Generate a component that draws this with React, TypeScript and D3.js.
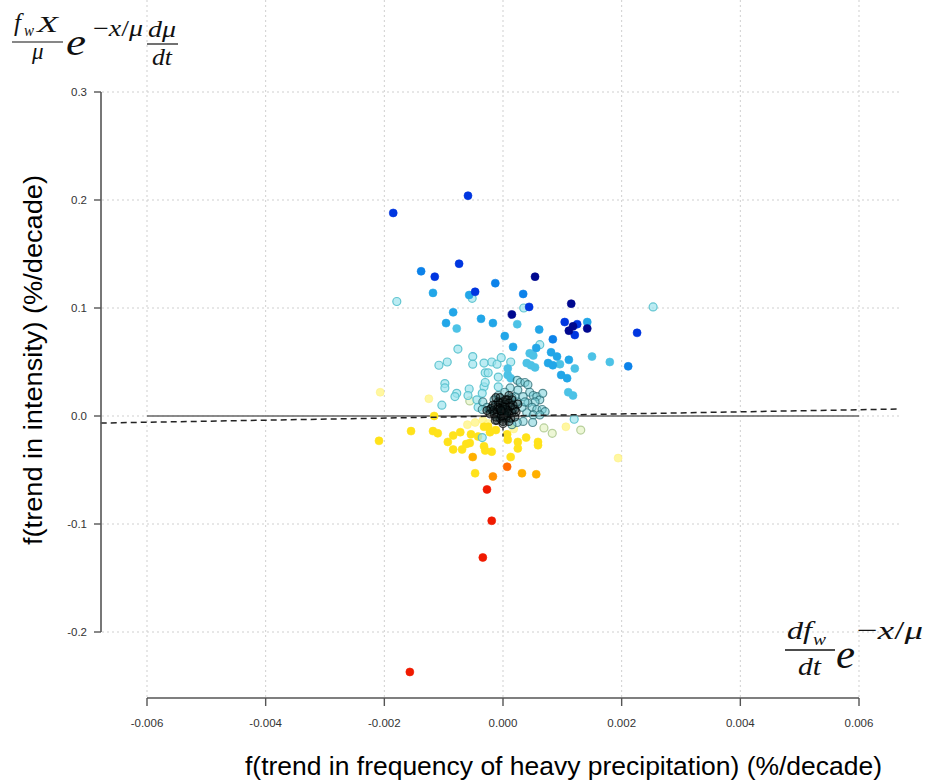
import React from "react";
import * as d3 from "d3";

const xTicks = [-0.006, -0.004, -0.002, 0, 0.002, 0.004, 0.006];
const xTickLabels = ["-0.006", "-0.004", "-0.002", "0.000", "0.002", "0.004", "0.006"];
const yTicks = [-0.2, -0.1, 0, 0.1, 0.2, 0.3];
const yTickLabels = ["-0.2", "-0.1", "0.0", "0.1", "0.2", "0.3"];

const xLabel = "f(trend in frequency of heavy precipitation) (%/decade)";
const yLabel = "f(trend in intensity) (%/decade)";

const regSlope = 0.965;
const regIntercept = 0;
const regXRange = [-0.00678, 0.00669];
const vSegment = [0.006, -0.019];

const navyPts = [[0.00054, 0.129], [0.00115, 0.104], [0.00015, 0.094], [0.00111, 0.079], [0.00118, 0.083], [0.00142, 0.081]];
const bluePts = [[-0.00185, 0.188], [-0.00059, 0.204], [-0.00115, 0.129], [-0.00074, 0.141], [-0.00047, 0.115], [0.00044, 0.101], [0.00104, 0.087], [0.00125, 0.085], [0.00121, 0.075], [0.00226, 0.077]];
const azurePts = [[-0.00138, 0.134], [-0.00013, 0.123], [0.00034, 0.113], [0.00084, 0.071], [0.00211, 0.046]];
const skyPts = [[-0.00118, 0.114], [-0.00057, 0.112], [-0.00084, 0.096], [-0.00096, 0.086], [-0.00037, 0.09], [-0.00017, 0.086], [0.00061, 0.08], [0.00003, 0.074], [0.00017, 0.064], [0.00142, 0.087], [0.00056, 0.063], [0.00081, 0.059], [0.00091, 0.055], [0.00111, 0.052], [0.00076, 0.049], [0.00084, 0.047], [0.00098, 0.038], [0.00108, 0.035]];
const cyanPts = [[-0.00078, 0.081], [0.00024, 0.085], [0.0015, 0.055], [0.0018, 0.05], [0.0004, 0.049], [0.00047, 0.047], [0.00054, 0.045], [0.00096, 0.048], [0.00121, 0.044], [0.00008, 0.038], [0.00013, 0.035], [0.00008, 0.044], [0.00045, 0.058], [0.00051, 0.056], [0.0011, 0.022], [0.00118, 0.019]];
const lightCyanPts = [[-0.00052, 0.109], [-0.00179, 0.106], [0.00035, 0.1], [0.00253, 0.101], [-0.00076, 0.062], [0.00062, 0.066], [-0.00051, 0.055], [-0.00094, 0.05], [-0.00108, 0.047], [-0.00051, 0.048], [-0.00019, 0.05], [-0.0001, 0.048], [-0.00003, 0.054], [0.00013, 0.05], [-0.00098, 0.03], [-0.00098, 0.026], [-0.00078, 0.021], [-0.00081, 0.018], [-0.00103, 0.01], [-0.00057, 0.025], [-0.00059, 0.019], [-0.00044, 0.015], [-0.00042, 0.008], [-0.00032, 0.027], [-0.0003, 0.031], [-0.00008, 0.027], [-0.00035, 0.021], [-0.0003, 0.04], [-0.00025, 0.04], [-0.00008, 0.036], [-0.00032, 0.049], [0.0012, -0.003], [-0.00035, -0.02]];
const darkRingPts = [[0.00024, 0.033], [0.00029, 0.031], [0.00037, 0.031], [0.00042, 0.029], [0.00045, 0.022], [0.00051, 0.019], [0.00057, 0.018], [0.00062, 0.015], [0.00054, 0.013], [0.00042, 0.012], [0.00049, 0.008], [0.00057, 0.006], [0.00066, 0.006], [0.00071, 0.004], [0.0004, 0.003], [0.00051, 0.001], [0.00062, 0.001], [0.00032, 0.008], [0.00024, 0.013], [0.00017, 0.007], [0.0002, 0.018], [0.00025, 0.024], [0.00012, 0.026], [0.00034, 0.018], [0.00037, 0.013], [-0.00034, 0.013], [-0.00027, 0.008], [-0.00022, 0.006], [-0.00035, 0.006], [-0.00008, 0.019], [-0.00015, 0.015], [0.00003, 0.022], [0.00015, 0.017], [0.0005, -0.006], [0.00034, -0.005], [0.00024, -0.006], [0.00015, -0.008], [0.00067, 0.021]];
const corePts = [[-0.00013, 0.01], [-0.00005, 0.012], [0.00003, 0.011], [0.00012, 0.009], [-0.0001, 0.006], [0, 0.006], [0.00008, 0.005], [0.00015, 0.003], [-0.00007, 0.002], [0.00003, 0.001], [-0.00015, 0.002], [-0.00005, -0.002], [0.00005, -0.002], [0.00013, -0.002], [-0.0001, -0.004], [0, -0.005], [0.0002, 0.006], [-0.0002, 0.007], [0.00008, 0.015], [-0.00005, 0.017], [0.00002, 0.003], [-0.00002, 0.004], [0.00005, 0.006], [-0.00008, 0.008], [-0.00003, 0], [0, 0.009], [0.00007, 0], [-0.00012, -0.001], [0.0001, 0.012], [-0.00017, 0.005], [-0.00008, 0.013], [0, 0.013], [-0.00017, 0.01], [0.00017, 0.01], [0.00022, 0.004], [-0.00022, 0.002], [-0.00013, -0.004], [0.0001, -0.005], [0, -0.007], [0.00005, 0.015], [0.00015, 0.015], [0.00025, 0.011], [-0.00012, 0.017], [0.0001, 0.019], [0.0002, -0.001], [-0.00027, 0.005], [-0.00005, 0.007], [0.00003, 0.008], [-0.00003, 0.005], [0.00007, 0.003]];
const paleGreenPts = [[0.00131, -0.013], [0.00083, -0.016], [0.00069, -0.011], [-0.00056, 0.014]];
const paleYellowPts = [[-0.00207, 0.022], [-0.00125, 0.016], [0.00106, -0.01], [0.00194, -0.039], [-0.00047, -0.006], [-0.00034, -0.004], [-0.0006, -0.008], [-0.00025, -0.007], [0.00018, -0.012]];
const yellowPts = [[-0.00209, -0.023], [-0.00155, -0.014], [-0.00116, 0], [-0.00118, -0.014], [-0.0011, -0.016], [-0.00093, -0.024], [-0.00084, -0.018], [-0.00072, -0.015], [-0.00084, -0.031], [-0.00069, -0.031], [-0.00062, -0.026], [-0.00056, -0.025], [-0.00054, -0.017], [-0.00042, -0.019], [-0.00047, -0.053], [-0.00032, -0.028], [-0.0003, -0.032], [-0.00019, -0.033], [-0.00032, -0.01], [-0.00025, -0.01], [-0.00022, -0.015], [-0.00012, -0.013], [0.00007, -0.017], [0.00008, -0.022], [0.00013, -0.038], [0.00025, -0.024], [0.00025, -0.03], [0.00039, -0.02], [0.00059, -0.024], [0.00059, -0.027]];
const amberPts = [[-0.00051, -0.038], [0.00032, -0.053], [0.00056, -0.054]];
const orangePts = [[-0.00017, -0.056]];
const orangeRedPts = [[0.00007, -0.047]];
const redPts = [[-0.00027, -0.068], [-0.00019, -0.097], [-0.00034, -0.131], [-0.00157, -0.237]];

type Style = { fill: string; fo: number; stroke: string; so: number; sw: number };

const layers: { pts: number[][]; st: Style }[] = [
  { pts: paleGreenPts, st: { fill: "#e6f4c4", fo: 0.7, stroke: "#a8c488", so: 0.8, sw: 1.2 } },
  { pts: paleYellowPts, st: { fill: "#fff58a", fo: 0.8, stroke: "#fff07a", so: 0.5, sw: 1 } },
  { pts: yellowPts, st: { fill: "#ffe21a", fo: 1, stroke: "#ffe21a", so: 0.6, sw: 1 } },
  { pts: amberPts, st: { fill: "#ffb000", fo: 1, stroke: "#ffb000", so: 0.6, sw: 1 } },
  { pts: orangePts, st: { fill: "#ff9000", fo: 1, stroke: "#ff9000", so: 0.6, sw: 1 } },
  { pts: orangeRedPts, st: { fill: "#ff6a00", fo: 1, stroke: "#ff6a00", so: 0.6, sw: 1 } },
  { pts: redPts, st: { fill: "#f01a00", fo: 1, stroke: "#f01a00", so: 0.6, sw: 1 } },
  { pts: lightCyanPts, st: { fill: "#9ee4ee", fo: 0.7, stroke: "#55c0cc", so: 0.9, sw: 1.2 } },
  { pts: cyanPts, st: { fill: "#4cc2e6", fo: 1, stroke: "#4cc2e6", so: 0.6, sw: 1 } },
  { pts: skyPts, st: { fill: "#22a6e8", fo: 1, stroke: "#22a6e8", so: 0.6, sw: 1 } },
  { pts: azurePts, st: { fill: "#0c82ea", fo: 1, stroke: "#0c82ea", so: 0.6, sw: 1 } },
  { pts: bluePts, st: { fill: "#0036e0", fo: 1, stroke: "#0036e0", so: 0.6, sw: 1 } },
  { pts: navyPts, st: { fill: "#00088f", fo: 1, stroke: "#00088f", so: 0.6, sw: 1 } },
  { pts: darkRingPts, st: { fill: "#78cfd8", fo: 0.55, stroke: "#24646c", so: 0.7, sw: 1.2 } },
  { pts: corePts, st: { fill: "#0c1c1c", fo: 0.35, stroke: "#000000", so: 0.7, sw: 1.2 } },
];

const W = 931;
const H = 781;

export default function App() {
  const x = d3.scaleLinear().domain([-0.006, 0.006]).range([147, 859]);
  const y = d3.scaleLinear().domain([-0.2, 0.3]).range([632, 92]);
  const axisColor = "#555";
  const gridColor = "#cfcfcf";
  const tickFont = "'Liberation Sans', Arial, sans-serif";
  const mathFont = "'Liberation Serif', 'Times New Roman', serif";
  const r = 4;
  const LA = "spacingAndGlyphs";

  return (
    <svg width={W} height={H} style={{ position: "absolute", left: 0, top: 0, background: "#fff" }}>
      <rect x={0} y={0} width={W} height={H} fill="#fff" />
      {xTicks.map((t, i) => (
        <line key={"gx" + i} x1={x(t)} x2={x(t)} y1={0} y2={697} stroke={gridColor} strokeWidth={1} strokeDasharray="2,3" />
      ))}
      {yTicks.map((t, i) => (
        <line key={"gy" + i} x1={102} x2={900} y1={y(t)} y2={y(t)} stroke={gridColor} strokeWidth={1} strokeDasharray="2,3" />
      ))}
      <line x1={x(-0.006)} x2={x(0.006)} y1={y(0)} y2={y(0)} stroke="#666" strokeWidth={1.6} />
      {layers.map((L, li) =>
        L.pts.map((p, i) => (
          <circle key={li + "-" + i} cx={x(p[0])} cy={y(p[1])} r={r} fill={L.st.fill} fillOpacity={L.st.fo}
            stroke={L.st.stroke} strokeOpacity={L.st.so} strokeWidth={L.st.sw} />
        ))
      )}
      <line x1={x(regXRange[0])} x2={x(regXRange[1])}
        y1={y(regIntercept + regSlope * regXRange[0])} y2={y(regIntercept + regSlope * regXRange[1])}
        stroke="#222" strokeWidth={1.5} strokeDasharray="6,4" />
      <line x1={x(0)} x2={x(0)} y1={y(vSegment[0])} y2={y(vSegment[1])} stroke="#222" strokeWidth={1.3} strokeDasharray="3,3" />
      <line x1={101} x2={101} y1={y(0.3)} y2={y(-0.2)} stroke={axisColor} strokeWidth={1.6} />
      {yTicks.map((t, i) => (
        <g key={"yt" + i}>
          <line x1={94} x2={101} y1={y(t)} y2={y(t)} stroke={axisColor} strokeWidth={1.4} />
          <text x={87} y={y(t) + 4} textAnchor="end" fontSize={11.5} fill="#333" fontFamily={tickFont}>{yTickLabels[i]}</text>
        </g>
      ))}
      <line x1={x(-0.006)} x2={x(0.006)} y1={698} y2={698} stroke={axisColor} strokeWidth={1.6} />
      {xTicks.map((t, i) => (
        <g key={"xt" + i}>
          <line x1={x(t)} x2={x(t)} y1={698} y2={706} stroke={axisColor} strokeWidth={1.4} />
          <text x={x(t)} y={727} textAnchor="middle" fontSize={11.5} fill="#333" fontFamily={tickFont}>{xTickLabels[i]}</text>
        </g>
      ))}
      <text x={245} y={775} fontSize={25} fill="#000" fontFamily={tickFont} textLength={637} lengthAdjust={LA}>{xLabel}</text>
      <text transform={`translate(42,545) rotate(-90)`} fontSize={25} fill="#000" fontFamily={tickFont} textLength={370} lengthAdjust={LA}>{yLabel}</text>

      <g fontFamily={mathFont} fill="#111" fontStyle="italic">
        <text x={14} y={31} fontSize={25}>f</text>
        <text x={24} y={36} fontSize={17} textLength={10} lengthAdjust={LA}>w</text>
        <text x={37} y={32} fontSize={23} textLength={21} lengthAdjust={LA}>X</text>
        <line x1={12} x2={63} y1={42} y2={42} stroke="#111" strokeWidth={1.2} />
        <text x={32} y={59} fontSize={23}>μ</text>
        <text x={66} y={55} fontSize={38} textLength={20} lengthAdjust={LA}>e</text>
        <text x={93} y={36} fontSize={23} textLength={50} lengthAdjust={LA}><tspan fontStyle="normal">−</tspan>x<tspan fontStyle="normal">/</tspan>μ</text>
        <text x={148} y={37} fontSize={23} textLength={28} lengthAdjust={LA}>dμ</text>
        <line x1={147} x2={178} y1={44} y2={44} stroke="#111" strokeWidth={1.2} />
        <text x={152} y={65} fontSize={23} textLength={20} lengthAdjust={LA}>dt</text>
      </g>

      <g fontFamily={mathFont} fill="#111" fontStyle="italic">
        <text x={787} y={639} fontSize={25} textLength={25} lengthAdjust={LA}>df</text>
        <text x={813} y={645} fontSize={17} textLength={13} lengthAdjust={LA}>w</text>
        <line x1={785} x2={835} y1={650} y2={650} stroke="#111" strokeWidth={1.3} />
        <text x={798} y={675} fontSize={25} textLength={23} lengthAdjust={LA}>dt</text>
        <text x={836} y={668} fontSize={40} textLength={19} lengthAdjust={LA}>e</text>
        <text x={857} y={639} fontSize={26} textLength={66} lengthAdjust={LA}><tspan fontStyle="normal">−</tspan>x<tspan fontStyle="normal">/</tspan>μ</text>
      </g>
    </svg>
  );
}
